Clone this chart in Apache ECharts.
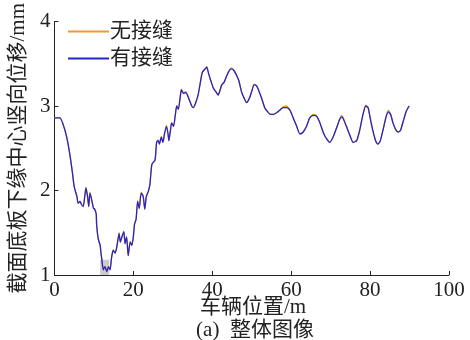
<!DOCTYPE html>
<html>
<head>
<meta charset="utf-8">
<script src="https://cdn.jsdelivr.net/npm/echarts@6/dist/echarts.min.js"></script>
<style>html,body{margin:0;padding:0;background:#fff}#c{width:470px;height:340px}</style>
</head>
<body>
<div id="c"></div>
<script>
const seriesNames = ['无接缝', '有接缝'];
const xTicks = [0, 20, 40, 60, 80, 100];
const yTicks = [1, 2, 3, 4];
const xs = [0,1.4,2.5,3.3,4.0,4.6,5.0,5.7,6.0,6.5,6.8,7.3,7.7,8.0,8.4,8.7,9.0,9.4,9.9,10.2,10.6,10.7,11.1,11.6,11.8,12.0,12.4,12.8,13.3,13.7,14.1,14.5,14.9,15.4,15.8,16.4,16.7,17.1,17.6,17.9,18.3,18.7,19.2,19.6,20.0,20.3,20.7,21.1,21.5,22.0,22.5,22.9,23.3,23.8,24.2,24.7,25.5,25.9,26.3,26.6,27.1,27.5,27.9,28.4,28.8,29.0,29.4,29.7,30.2,30.6,31.0,31.4,32.0,32.2,32.7,33.3,34.2,34.8,35.2,35.9,36.5,37.1,37.5,38.2,38.6,39.1,39.7,40.3,40.9,41.5,42.0,42.4,43.0,43.7,44.3,44.9,45.5,46.2,46.8,47.4,48.1,48.7,49.4,50.0,50.6,51.2,51.9,52.6,53.3,53.9,54.7,55.5,56.3,57.1,58.0,58.8,59.3,59.8,60.6,61.4,62.2,63.0,63.9,64.7,65.6,66.4,67.3,68.1,69.0,69.8,70.6,71.5,72.3,72.8,73.2,74.0,74.9,75.7,76.6,77.4,78.2,78.9,79.5,80.1,80.8,81.4,82.0,82.6,83.3,84.0,84.6,85.2,85.8,86.5,87.1,87.7,88.4,89.2,89.9];
const withJoint = [2.86,2.86,2.74,2.59,2.40,2.20,2.05,1.93,1.85,1.87,1.84,1.81,1.93,2.03,1.93,1.81,1.97,1.90,1.79,1.78,1.72,1.60,1.43,1.35,1.26,1.19,1.06,1.10,1.04,1.10,1.06,1.21,1.29,1.26,1.33,1.49,1.39,1.45,1.51,1.37,1.45,1.23,1.39,1.35,1.45,1.60,1.66,1.87,1.79,1.97,1.93,1.78,1.93,1.99,2.07,2.31,2.36,2.57,2.59,2.55,2.63,2.57,2.67,2.76,2.67,2.59,2.71,2.80,2.76,2.88,3.00,2.96,3.15,3.19,3.15,3.16,3.07,3.00,2.98,3.05,3.15,3.31,3.40,3.44,3.46,3.38,3.29,3.21,3.17,3.13,3.19,3.25,3.28,3.36,3.42,3.44,3.42,3.36,3.29,3.17,3.09,3.04,3.09,3.17,3.25,3.24,3.17,3.08,2.98,2.94,2.90,2.90,2.92,2.95,2.98,2.98,2.97,2.94,2.85,2.76,2.67,2.69,2.76,2.86,2.89,2.88,2.80,2.69,2.61,2.57,2.63,2.74,2.84,2.87,2.85,2.76,2.65,2.57,2.59,2.72,2.90,3.00,2.98,2.84,2.69,2.59,2.55,2.59,2.72,2.86,2.93,2.90,2.80,2.72,2.69,2.71,2.82,2.94,3.00];
const noJoint = [2.86,2.86,2.74,2.59,2.40,2.20,2.05,1.93,1.85,1.87,1.84,1.81,1.94,2.04,1.93,1.81,1.98,1.90,1.79,1.78,1.72,1.60,1.43,1.35,1.26,1.19,1.06,1.10,1.04,1.10,1.06,1.21,1.30,1.26,1.33,1.50,1.39,1.45,1.52,1.37,1.45,1.23,1.40,1.35,1.45,1.60,1.66,1.88,1.79,1.98,1.93,1.78,1.93,1.99,2.07,2.31,2.36,2.57,2.60,2.55,2.64,2.57,2.67,2.77,2.67,2.59,2.71,2.80,2.76,2.88,3.00,2.96,3.15,3.20,3.15,3.17,3.07,3.00,2.98,3.05,3.15,3.31,3.40,3.44,3.47,3.38,3.29,3.21,3.17,3.13,3.19,3.25,3.28,3.36,3.42,3.45,3.42,3.36,3.29,3.17,3.09,3.04,3.09,3.17,3.26,3.24,3.17,3.08,2.98,2.94,2.90,2.90,2.92,2.95,2.99,3.00,2.98,2.94,2.85,2.76,2.67,2.69,2.76,2.86,2.90,2.89,2.80,2.69,2.61,2.57,2.63,2.74,2.85,2.89,2.86,2.76,2.65,2.57,2.59,2.72,2.90,3.01,2.98,2.84,2.69,2.59,2.55,2.59,2.72,2.87,2.95,2.91,2.80,2.72,2.69,2.71,2.82,2.94,3.00];
const highlightX = [11.6, 13.9];
const highlightY = [1.0, 1.18];
const xName = '车辆位置/m';
const yName = '截面底板下缘中心竖向位移/mm';
const caption = '(a)  整体图像';

const serif = "'Liberation Serif', 'Noto Sans CJK SC', serif";
const mixedFont = "21px 'Liberation Serif', 'Noto Sans CJK SC', serif";
const pair = (ys) => xs.map((x, i) => [x, ys[i]]);

const chart = echarts.init(document.getElementById('c'));
chart.setOption({
  animation: false,
  backgroundColor: '#fff',
  grid: { left: 54, right: 21, top: 17, bottom: 65, containLabel: false },
  legend: {
    orient: 'vertical', left: 63, top: 16,
    itemWidth: 41, itemHeight: 2, itemGap: 6, icon: 'rect',
    textStyle: { fontFamily: serif, fontSize: 21, color: '#222', padding: [0, 0, 0, -4] },
    data: seriesNames
  },
  xAxis: {
    type: 'value', min: xTicks[0], max: xTicks[xTicks.length - 1], interval: 20,
    axisLine: { show: true, lineStyle: { color: '#222', width: 1 } },
    axisTick: { show: true, inside: true, length: 4, lineStyle: { color: '#222' } },
    axisLabel: { fontFamily: serif, fontSize: 21, color: '#222', margin: 5 },
    splitLine: { show: false }
  },
  yAxis: {
    type: 'value', min: yTicks[0], max: yTicks[yTicks.length - 1], interval: 1,
    name: yName, nameLocation: 'middle', nameGap: 24,
    nameTextStyle: { fontFamily: serif, fontSize: 21, color: '#222' },
    axisLine: { show: true, lineStyle: { color: '#222', width: 1 } },
    axisTick: { show: true, inside: true, length: 4, lineStyle: { color: '#222' } },
    axisLabel: { fontFamily: serif, fontSize: 21, color: '#222', margin: 4 },
    splitLine: { show: false }
  },
  series: [
    {
      name: seriesNames[0], type: 'line', data: pair(noJoint),
      showSymbol: false, symbol: 'none', smooth: 0.2,
      lineStyle: { color: '#F39A2C', width: 1.3 }, itemStyle: { color: '#F39A2C' }, z: 2
    },
    {
      name: seriesNames[1], type: 'line', data: pair(withJoint),
      showSymbol: false, symbol: 'none', smooth: 0.2,
      lineStyle: { color: '#2626C8', width: 1.3 }, itemStyle: { color: '#2626C8' }, z: 3,
      markArea: {
        silent: true,
        itemStyle: { color: 'rgba(170,170,170,0.6)' },
        data: [[{ coord: [highlightX[0], highlightY[0]] }, { coord: [highlightX[1], highlightY[1]] }]]
      }
    }
  ],
  graphic: [
    {
      type: 'text', x: 253, y: 307,
      style: { text: xName, font: mixedFont, fill: '#222', align: 'center', verticalAlign: 'middle' }
    },
    {
      type: 'text', x: 255, y: 330,
      style: { text: caption, font: mixedFont, fill: '#222', align: 'center', verticalAlign: 'middle' }
    }
  ]
});
</script>
</body>
</html>
